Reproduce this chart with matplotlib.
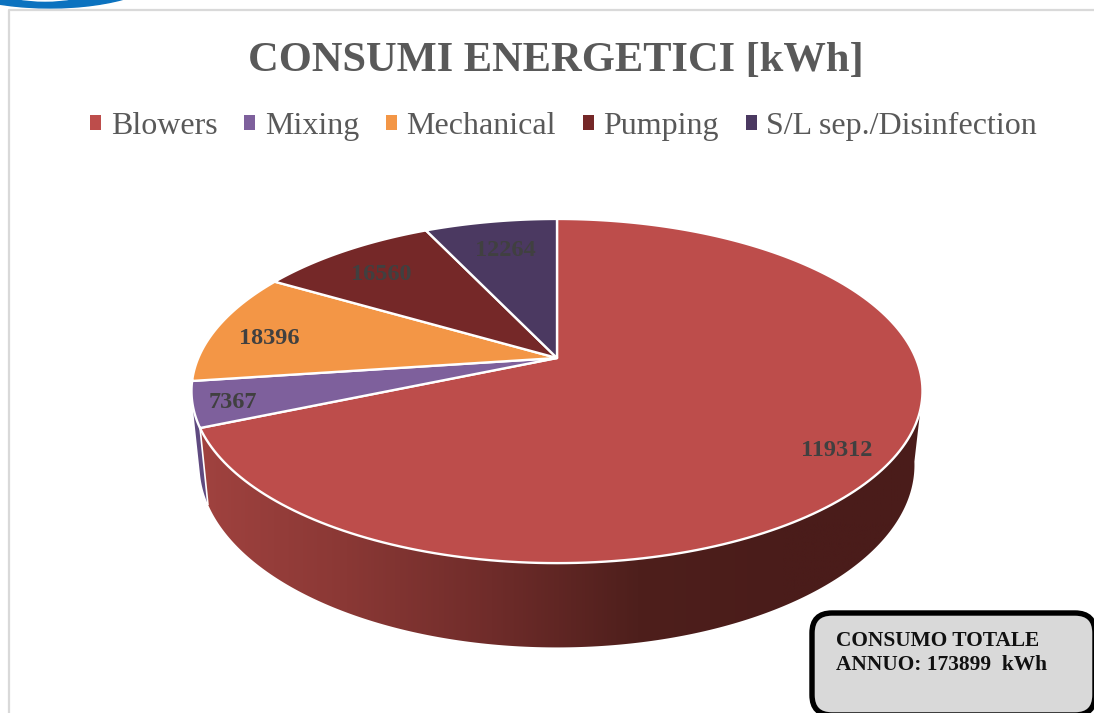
import matplotlib

matplotlib.use("Agg")
import matplotlib.pyplot as plt
import numpy as np
from matplotlib.colors import LinearSegmentedColormap
from matplotlib.patches import Ellipse, FancyBboxPatch, Polygon, Rectangle

plt.rcParams["font.family"] = ["Liberation Serif", "DejaVu Serif"]

categories = ["Blowers", "Mixing", "Mechanical", "Pumping", "S/L sep./Disinfection"]
values = [119312, 7367, 18396, 16560, 12264]
colors = ["#bd4d4b", "#7e609c", "#f39646", "#752828", "#4b3961"]
title = "CONSUMI ENERGETICI [kWh]"
note = "CONSUMO TOTALE\nANNUO: 173899  kWh"

# pixel layout of the page
label_pos = [(837, 450), (233, 402), (269, 338), (381, 274), (505, 250)]
APEX = (557, 358)
PERSP = 0.192
DEPTH = 72


def rim(angle, radius=1.0):
    # tilted pie: project a flat circle onto the page, angle clockwise from 12 o'clock
    u = radius * np.sin(np.radians(angle))
    v = radius * np.cos(np.radians(angle))
    w = 1 + PERSP * v
    return APEX[0] + 358.7 * u / w, (APEX[1] - 97 * v) / w


def floor(angle):
    x, y = rim(angle)
    return APEX[0] + (x - APEX[0]) * 0.978, APEX[1] + DEPTH + (y - APEX[1]) * 1.06


def strip(start, end, low_start, low_end):
    top = rim(np.linspace(start, end, 200))
    low = floor(np.linspace(low_end, low_start, 200))
    return np.column_stack([np.r_[top[0], low[0]], np.r_[top[1], low[1]]])


fig = plt.figure(figsize=(10.94, 7.13), dpi=100)
ax = fig.add_axes([0, 0, 1, 1])
ax.axis("off")

# header arc and frame
ax.add_patch(Ellipse((50, -30), 230, 76, color="#0b72bf", zorder=1))
ax.add_patch(Ellipse((45, -32), 150, 66, color="#ffffff", zorder=1.1))
ax.plot([1094, 9, 9], [10, 10, 713], color="#d9d9d9", lw=1.6, zorder=1.2)

edges = np.r_[0, np.cumsum(values)] / sum(values) * 360

# side wall
wall = Polygon(strip(107, edges[1], 100, edges[1]), closed=True, fc="none", ec="none")
ax.add_patch(wall)
shade = LinearSegmentedColormap.from_list(
    "wall", ["#a0423f", "#8a3835", "#6f2c2a", "#4e1f1c", "#4a1c1a", "#4a1c1a"]
)
image = ax.imshow(
    np.linspace(0, 1, 256)[None, :],
    extent=(200, 930, 660, 390),
    cmap=shade,
    aspect="auto",
    zorder=2,
)
image.set_clip_path(wall)
ax.add_patch(
    Polygon(strip(edges[1], edges[1] + 9, edges[1], edges[1] + 9), closed=True,
            fc="#5f4a80", ec="none", zorder=1.9)
)
low = floor(edges[1])
ax.plot([rim(edges[1])[0], low[0]], [rim(edges[1])[1], low[1]], color="white", lw=1.2, zorder=2.1)

# top face
for start, end, color in zip(edges[:-1], edges[1:], colors):
    x, y = rim(np.linspace(start, end, 200))
    ax.add_patch(
        Polygon(np.column_stack([np.r_[APEX[0], x], np.r_[APEX[1], y]]), closed=True,
                fc=color, ec="white", lw=1.7, joinstyle="round", zorder=3)
    )

for value, (x, y) in zip(values, label_pos):
    ax.text(x, y, str(value), ha="center", va="center", fontsize=17.5,
            fontweight="bold", color="#404040", zorder=4)

ax.text(556, 61, title, ha="center", va="center", fontsize=30.6,
        fontweight="bold", color="#595959")
handles = [Rectangle((0, 0), 1, 1, fc=c, ec="none") for c in colors]
ax.legend(
    handles, categories, ncols=5, loc="center", bbox_to_anchor=(563.5, 126),
    bbox_transform=ax.transData, frameon=False, fontsize=23, labelcolor="#595959",
    handlelength=0.35, handleheight=0.35, handletextpad=0.295, columnspacing=0.84,
    borderpad=0, borderaxespad=0,
)

# total box, runs off the page
ax.add_patch(
    FancyBboxPatch((812, 613), 283, 102, boxstyle="round,pad=0,rounding_size=20",
                   fc="#d9d9d9", ec="black", lw=3.9, zorder=5)
)
ax.text(835.5, 653, note, ha="left", va="center", fontsize=15.4, fontweight="bold",
        color="#111111", linespacing=1.2, zorder=6)

ax.set_xlim(0, 1094)
ax.set_ylim(713, 0)
fig.savefig("out.png", dpi=100)
